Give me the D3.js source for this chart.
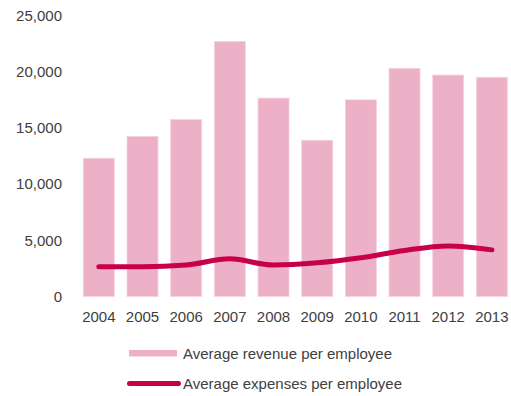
<!DOCTYPE html>
<html>
<head>
<meta charset="utf-8">
<script src="https://cdn.jsdelivr.net/npm/d3@7"></script>
<style>
  html, body { margin: 0; padding: 0; background: #fff; }
  svg { display: block; font-family: "Liberation Sans", Arial, sans-serif; }
</style>
</head>
<body>
<svg id="chart" width="511" height="396"></svg>
<script>
// Yearly averages per employee
const years = ["2004", "2005", "2006", "2007", "2008", "2009", "2010", "2011", "2012", "2013"];
const revenue = [12300, 14250, 15750, 22700, 17650, 13900, 17500, 20300, 19700, 19500];
const expenses = [2650, 2650, 2800, 3350, 2800, 3000, 3450, 4100, 4500, 4150];
const yTicks = [0, 5000, 10000, 15000, 20000, 25000];
const legendLabels = ["Average revenue per employee", "Average expenses per employee"];

const barColor = "#ecb1c7";
const lineColor = "#c8004a";
const textColor = "#404040";

const svg = d3.select("#chart");

const x = d3.scaleBand()
  .domain(years)
  .range([77, 513.7])
  .paddingInner(0.29)
  .paddingOuter(0.145);

const y = d3.scaleLinear()
  .domain([0, 25000])
  .range([296.5, 15.5]);

// Y axis labels (no axis line or ticks)
const yAxis = svg.append("g")
  .attr("transform", "translate(62,0)")
  .call(d3.axisLeft(y).tickValues(yTicks).tickFormat(d3.format(",")).tickSize(0).tickPadding(0));
yAxis.select(".domain").remove();
yAxis.selectAll("text")
  .attr("fill", textColor)
  .style("font-size", "15px")
  .style("font-family", "'Liberation Sans', Arial, sans-serif");

// Revenue bars
svg.append("g").selectAll("rect")
  .data(years)
  .join("rect")
  .attr("x", d => x(d))
  .attr("y", (d, i) => y(revenue[i]))
  .attr("width", x.bandwidth())
  .attr("height", (d, i) => y(0) - y(revenue[i]))
  .attr("fill", barColor)
  .attr("stroke", "#f5d3df")
  .attr("stroke-width", 0.8);

// X axis labels
const xAxis = svg.append("g")
  .attr("transform", "translate(0,317)")
  .call(d3.axisBottom(x).tickSize(0).tickPadding(0));
xAxis.select(".domain").remove();
xAxis.selectAll("text")
  .attr("fill", textColor)
  .attr("dy", "0.35em")
  .style("font-size", "15px")
  .style("font-family", "'Liberation Sans', Arial, sans-serif");

// Expenses line
const line = d3.line()
  .x((d, i) => x(years[i]) + x.bandwidth() / 2)
  .y(d => y(d))
  .curve(d3.curveMonotoneX);

svg.append("path")
  .datum(expenses)
  .attr("d", line)
  .attr("fill", "none")
  .attr("stroke", lineColor)
  .attr("stroke-width", 5)
  .attr("stroke-linecap", "round")
  .attr("stroke-linejoin", "round");

// Legend
const legend = svg.append("g");
legend.append("rect")
  .attr("x", 129).attr("y", 350)
  .attr("width", 48).attr("height", 6.5)
  .attr("fill", barColor);
legend.append("line")
  .attr("x1", 129.5).attr("x2", 178.5)
  .attr("y1", 383.5).attr("y2", 383.5)
  .attr("stroke", lineColor)
  .attr("stroke-width", 5)
  .attr("stroke-linecap", "round");
legend.selectAll("text")
  .data(legendLabels)
  .join("text")
  .attr("x", 183)
  .attr("y", (d, i) => 353.5 + i * 30)
  .attr("dy", "0.35em")
  .attr("fill", textColor)
  .style("font-size", "15px")
  .text(d => d);
</script>
</body>
</html>
